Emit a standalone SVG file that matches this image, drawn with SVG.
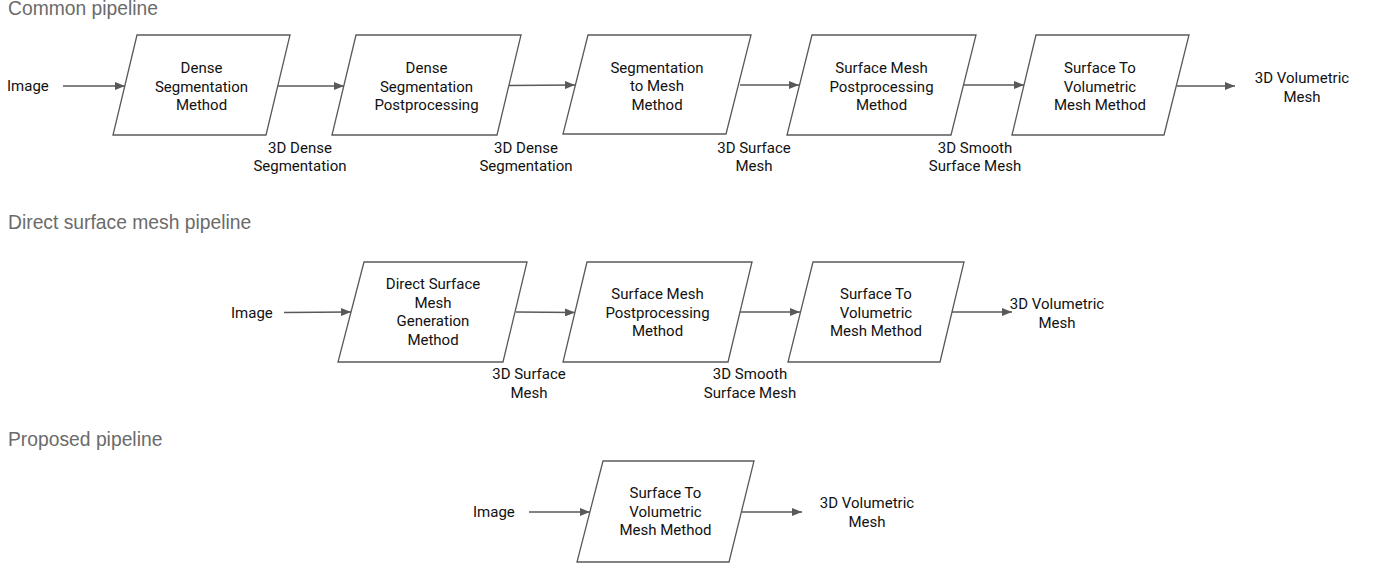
<svg xmlns="http://www.w3.org/2000/svg" width="1375" height="566" viewBox="0 0 1375 566">
<style>
.t{font-family:Roboto,"Liberation Sans",sans-serif;font-size:15px;fill:#111;text-anchor:middle}
.l{font-family:Roboto,"Liberation Sans",sans-serif;font-size:15px;fill:#111}
.h{font-family:"Liberation Sans",Arial,sans-serif;font-size:19.3px;fill:#6b6b6b}
.n{fill:#fff;stroke:#595959;stroke-width:1.3}
.c{stroke:#595959;stroke-width:1.3;fill:none;marker-end:url(#ah)}
</style>
<defs>
<marker id="ah" markerUnits="userSpaceOnUse" markerWidth="10" markerHeight="8" refX="10" refY="4" orient="auto">
<path d="M0,0 L10,4 L0,8 z" fill="#595959"/>
</marker>
</defs>
<rect width="1375" height="566" fill="#fff"/>
<g id="titles">
<text class="h" x="8" y="15">Common pipeline</text>
<text class="h" x="8" y="228.5">Direct surface mesh pipeline</text>
<text class="h" x="8" y="446">Proposed pipeline</text>
</g>
<g id="connectors">
<line class="c" x1="63" y1="86" x2="125" y2="86"/>
<line class="c" x1="278" y1="86" x2="344" y2="86"/>
<line class="c" x1="508" y1="85.5" x2="575" y2="85"/>
<line class="c" x1="740" y1="85" x2="799" y2="85"/>
<line class="c" x1="963" y1="85" x2="1024" y2="85"/>
<line class="c" x1="1177" y1="86" x2="1235" y2="86"/>
<line class="c" x1="284" y1="312.5" x2="351" y2="312"/>
<line class="c" x1="516" y1="312" x2="575" y2="312.5"/>
<line class="c" x1="740" y1="312" x2="800" y2="312"/>
<line class="c" x1="952" y1="312" x2="1012" y2="312"/>
<line class="c" x1="529" y1="512" x2="590" y2="512"/>
<line class="c" x1="742" y1="512" x2="802" y2="512"/>
</g>
<g id="labels">
<text class="l" x="7" y="91">Image</text>
<text class="t" x="300" y="153">3D Dense</text><text class="t" x="300" y="171">Segmentation</text>
<text class="t" x="526" y="153">3D Dense</text><text class="t" x="526" y="171">Segmentation</text>
<text class="t" x="754" y="153">3D Surface</text><text class="t" x="754" y="171">Mesh</text>
<text class="t" x="975" y="153">3D Smooth</text><text class="t" x="975" y="171">Surface Mesh</text>
<text class="t" x="1302" y="83">3D Volumetric</text><text class="t" x="1302" y="102">Mesh</text>
<text class="l" x="231" y="318">Image</text>
<text class="t" x="529" y="379">3D Surface</text><text class="t" x="529" y="397.5">Mesh</text>
<text class="t" x="750" y="379">3D Smooth</text><text class="t" x="750" y="397.5">Surface Mesh</text>
<text class="t" x="1057" y="309">3D Volumetric</text><text class="t" x="1057" y="328">Mesh</text>
<text class="l" x="473" y="517">Image</text>
<text class="t" x="867" y="508">3D Volumetric</text><text class="t" x="867" y="527">Mesh</text>
</g>
<g id="n1"><polygon class="n" points="137,35 290,35 266,135 113,135"/>
<text class="t" x="201.5" y="73">Dense</text><text class="t" x="201.5" y="91.5">Segmentation</text><text class="t" x="201.5" y="110">Method</text></g>
<g id="n2"><polygon class="n" points="356,35 521,35 497,135 332,135"/>
<text class="t" x="426.5" y="73">Dense</text><text class="t" x="426.5" y="91.5">Segmentation</text><text class="t" x="426.5" y="110">Postprocessing</text></g>
<g id="n3"><polygon class="n" points="588,35 751,35 726,134 563,134"/>
<text class="t" x="657" y="72.5">Segmentation</text><text class="t" x="657" y="91">to Mesh</text><text class="t" x="657" y="109.5">Method</text></g>
<g id="n4"><polygon class="n" points="812,35 976,35 951,135 787,135"/>
<text class="t" x="881.5" y="73">Surface Mesh</text><text class="t" x="881.5" y="91.5">Postprocessing</text><text class="t" x="881.5" y="110">Method</text></g>
<g id="n5"><polygon class="n" points="1036,35 1189,35 1164,135 1012,135"/>
<text class="t" x="1100" y="73">Surface To</text><text class="t" x="1100" y="91.5">Volumetric</text><text class="t" x="1100" y="110">Mesh Method</text></g>
<g id="n6"><polygon class="n" points="364,262 527,262 503,362 338,362"/>
<text class="t" x="433" y="289">Direct Surface</text><text class="t" x="433" y="307.5">Mesh</text><text class="t" x="433" y="326">Generation</text><text class="t" x="433" y="344.5">Method</text></g>
<g id="n7"><polygon class="n" points="587,262 752,262 728,362 563,362"/>
<text class="t" x="657.5" y="299">Surface Mesh</text><text class="t" x="657.5" y="317.5">Postprocessing</text><text class="t" x="657.5" y="336">Method</text></g>
<g id="n8"><polygon class="n" points="813,262 964,262 940,362 788,362"/>
<text class="t" x="876" y="299">Surface To</text><text class="t" x="876" y="317.5">Volumetric</text><text class="t" x="876" y="336">Mesh Method</text></g>
<g id="n9"><polygon class="n" points="603,461 754,461 729,562 577,562"/>
<text class="t" x="665.5" y="498">Surface To</text><text class="t" x="665.5" y="516.5">Volumetric</text><text class="t" x="665.5" y="535">Mesh Method</text></g>
</svg>
